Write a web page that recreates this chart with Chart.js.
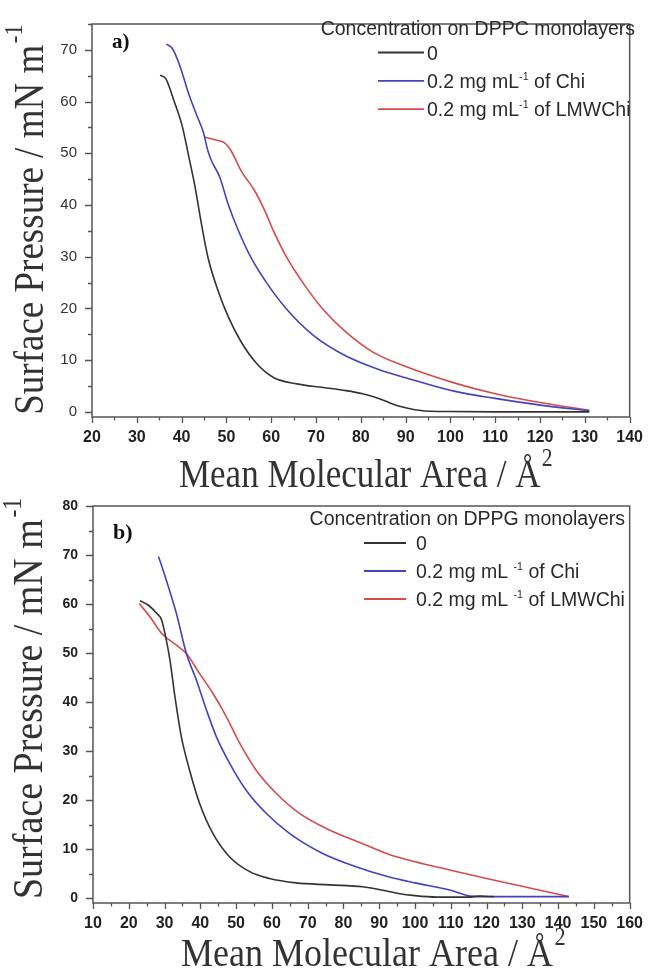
<!DOCTYPE html>
<html><head><meta charset="utf-8">
<script src="https://cdn.jsdelivr.net/npm/chart.js@4/dist/chart.umd.min.js"></script>
<style>
html,body{margin:0;padding:0;background:#fff;width:654px;height:970px;overflow:hidden;}
canvas{position:absolute;left:0;}
#ca{top:0;}
#cb{top:480px;}
</style></head><body>
<canvas id="ca" width="654" height="500"></canvas>
<canvas id="cb" width="654" height="495"></canvas>
<script>
// ---------------- data ----------------
const legendTitleA = 'Concentration on DPPC monolayers';
const legendTitleB = 'Concentration on DPPG monolayers';
const seriesNamesA = ['0', '0.2 mg mL^-1 of Chi', '0.2 mg mL^-1 of LMWChi'];
const seriesNamesB = ['0', '0.2 mg mL ^-1 of Chi', '0.2 mg mL ^-1 of LMWChi'];
const xAxisTitle = 'Mean Molecular Area / Å^2';
const yAxisTitle = 'Surface Pressure / mN m^-1';

const xTicksA = [20, 30, 40, 50, 60, 70, 80, 90, 100, 110, 120, 130, 140];
const yTicksA = [0, 10, 20, 30, 40, 50, 60, 70];
const xTicksB = [10, 20, 30, 40, 50, 60, 70, 80, 90, 100, 110, 120, 130, 140, 150, 160];
const yTicksB = [0, 10, 20, 30, 40, 50, 60, 70, 80];

// a) DPPC
const dppcPureX = [35.2, 36.5, 38.2, 40.1, 41.5, 43.0, 44.5, 45.9, 48.1, 50.3, 53.3, 56.9, 60.6, 65.7, 71.6, 76.7, 80.4, 84.0, 87.7, 91.0, 94.4, 100, 110, 120, 131];
const dppcPureY = [65.1, 64.4, 60.4, 55.4, 49.8, 43.5, 36.0, 29.8, 23.5, 18.6, 13.5, 9.2, 6.6, 5.4, 4.7, 4.1, 3.5, 2.6, 1.3, 0.6, 0.15, 0.05, 0, 0, 0];
const dppcChiX = [36.6, 37.9, 39.7, 41.5, 43.4, 44.8, 45.9, 46.7, 48.5, 50.3, 52.5, 55.5, 59.1, 63.5, 69.4, 76.7, 84.0, 90.0, 100.8, 110, 120, 131];
const dppcChiY = [71.1, 70.3, 66.7, 61.7, 57.3, 54.2, 50.4, 48.5, 45.4, 40.4, 35.4, 29.8, 24.8, 19.8, 14.8, 10.8, 8.2, 6.6, 4.0, 2.6, 1.3, 0.2];
const dppcLmwX = [45.2, 47.4, 49.6, 51.1, 53.3, 56.2, 58.4, 60.6, 63.5, 67.2, 71.6, 76.7, 82.6, 89.9, 100.8, 110, 120, 131];
const dppcLmwY = [53.1, 52.6, 52.0, 50.4, 46.6, 42.9, 39.2, 34.8, 29.8, 24.8, 19.8, 15.4, 11.6, 8.8, 5.6, 3.5, 1.8, 0.3];

// b) DPPG
const dppgPureX = [23.1, 25.4, 27.8, 29.2, 30.1, 31.5, 32.9, 34.7, 37.0, 39.8, 43.5, 48.2, 53.8, 59.3, 66.8, 76.1, 85.4, 91.0, 95, 100, 106, 115, 118, 122];
const dppgPureY = [60.7, 59.8, 58.1, 56.7, 54.0, 48.6, 41.1, 32.9, 26.1, 19.3, 13.2, 8.4, 5.4, 4.0, 3.1, 2.7, 2.3, 1.6, 1.0, 0.5, 0.2, 0.2, 0.4, 0.3];
const dppgChiX = [28.3, 29.6, 33.3, 36.1, 38.9, 41.7, 44.5, 48.2, 52.8, 58.4, 64.9, 74.2, 83.5, 92.8, 100, 110, 115.4, 120, 130, 143];
const dppgChiY = [69.7, 66.9, 58.1, 49.9, 44.5, 38.4, 32.9, 27.5, 22.0, 17.3, 13.2, 9.1, 6.4, 4.3, 3.1, 1.6, 0.4, 0.3, 0.3, 0.3];
const dppgLmwX = [22.9, 25.9, 29.2, 33.3, 36.1, 39.8, 43.5, 47.3, 51.0, 55.6, 61.2, 67.7, 76.1, 85.4, 92.8, 100, 110, 120, 130, 140, 143];
const dppgLmwY = [60.1, 57.4, 54.0, 51.6, 49.9, 45.8, 41.8, 37.0, 31.6, 26.1, 21.4, 17.3, 13.9, 11.1, 8.9, 7.4, 5.7, 4.0, 2.4, 0.8, 0.3];

const seriesColors = ['#333333', '#4343bf', '#d64c4c'];

// ---------------- helpers ----------------
const SANS = '"Liberation Sans", Arial, sans-serif';
const SERIF = '"Liberation Serif", "Times New Roman", serif';

function pts(xs, ys) { return xs.map((x, i) => ({ x: x, y: ys[i] })); }

function drawRich(ctx, text, x, y, o) {
  ctx.save();
  ctx.translate(x, y);
  if (o.rotate) ctx.rotate(o.rotate);
  ctx.scale(1, o.stretch || 1);
  const w8 = o.weight || 'normal';
  const main = w8 + ' ' + o.size + 'px ' + o.family;
  const sup = w8 + ' ' + (o.size * (o.supScale || 0.6)).toFixed(1) + 'px ' + o.family;
  const gap = o.size * (o.supGap || 0);
  const segs = text.split(/\^(\S+)/).map((t, i) => ({ t: t, sup: i % 2 === 1 })).filter(s => s.t.length);
  let w = 0;
  segs.forEach(s => { ctx.font = s.sup ? sup : main; s.w = ctx.measureText(s.t).width + (s.sup ? gap : 0); w += s.w; });
  let cx = o.align === 'center' ? -w / 2 : (o.align === 'right' ? -w : 0);
  ctx.fillStyle = o.color || '#222';
  ctx.textBaseline = 'alphabetic';
  ctx.textAlign = 'left';
  segs.forEach(s => {
    ctx.font = s.sup ? sup : main;
    ctx.fillText(s.t, cx + (s.sup ? gap : 0), s.sup ? -o.size * (o.supRise || 0.45) : 0);
    cx += s.w;
  });
  ctx.restore();
}

const framePlugin = {
  id: 'frame',
  afterDraw(chart, args, opts) {
    const { ctx, chartArea: a } = chart;
    const x = chart.scales.x, y = chart.scales.y;
    ctx.save();
    ctx.strokeStyle = '#555';
    ctx.lineWidth = 1.5;
    ctx.strokeRect(a.left, a.top, a.right - a.left, a.bottom - a.top);
    ctx.lineWidth = 1.3;
    ctx.beginPath();
    for (let v = x.min; v <= x.max + 1e-6; v += 5) {
      const p = Math.round(x.getPixelForValue(v)) + 0.5;
      const major = Math.round(v) % 10 === 0;
      ctx.moveTo(p, a.bottom); ctx.lineTo(p, a.bottom + (major ? 6 : 3.5));
    }
    for (let v = 0; v <= y.max + 1e-6; v += 5) {
      const p = Math.round(y.getPixelForValue(v)) + 0.5;
      const major = Math.round(v) % 10 === 0;
      ctx.moveTo(a.left, p); ctx.lineTo(a.left - (major ? 7 : 4), p);
    }
    ctx.stroke();

    // legend (from datasets)
    const L = opts.legend;
    drawRich(ctx, L.title, L.titleRight, L.titleY, { size: L.size, family: SANS, align: 'right', color: '#2a2a2a' });
    chart.data.datasets.forEach((ds, i) => {
      const ly = L.firstY + i * L.gap;
      ctx.strokeStyle = ds.borderColor;
      ctx.lineWidth = 1.8;
      ctx.beginPath(); ctx.moveTo(L.lineX0, ly); ctx.lineTo(L.lineX1, ly); ctx.stroke();
      drawRich(ctx, ds.label, L.textX, ly + L.size * 0.36, { size: L.size, family: SANS, color: '#2a2a2a', supScale: 0.55, supRise: 0.42 });
    });

    // panel label
    const P = opts.panel;
    drawRich(ctx, P.text, P.x, P.y, { size: P.size, family: SERIF, weight: 'bold', color: '#111' });

    // axis titles
    const T = opts.titles;
    drawRich(ctx, T.x, (a.left + a.right) / 2 + T.xShift, T.xBase, { size: T.xSize, family: SERIF, align: 'center', color: '#333', stretch: T.stretch, supScale: 0.62, supRise: 0.52, supGap: 0.04 });
    drawRich(ctx, T.y, T.yBase, (a.top + a.bottom) / 2 + T.yShift, { size: T.ySize, family: SERIF, align: 'center', color: '#333', rotate: -Math.PI / 2, stretch: T.stretch, supScale: 0.62, supRise: 0.5, supGap: 0.04 });
    ctx.restore();
  }
};

function makeChart(id, cfg) {
  const datasets = cfg.series.map((s, i) => ({
    label: cfg.names[i],
    data: pts(s[0], s[1]),
    borderColor: seriesColors[i],
    backgroundColor: seriesColors[i],
    borderWidth: 1.6,
    pointRadius: 0,
    showLine: true,
    fill: false,
    cubicInterpolationMode: 'monotone'
  }));
  return new Chart(document.getElementById(id), {
    type: 'scatter',
    data: { datasets: datasets },
    plugins: [framePlugin],
    options: {
      responsive: false,
      animation: false,
      events: [],
      layout: { padding: cfg.padding },
      plugins: {
        legend: { display: false },
        tooltip: { enabled: false },
        frame: { legend: cfg.legend, panel: cfg.panel, titles: cfg.titles }
      },
      scales: {
        x: {
          type: 'linear', min: cfg.xMin, max: cfg.xMax,
          grid: { display: false, drawTicks: false }, border: { display: false },
          afterBuildTicks: sc => { sc.ticks = cfg.xTicks.map(v => ({ value: v })); },
          afterFit: sc => { sc.height = cfg.xHeight; },
          ticks: { autoSkip: false, maxRotation: 0, padding: 11, color: '#222', font: { family: SANS, size: 16, weight: 'bold' } }
        },
        y: {
          type: 'linear', min: cfg.yMin, max: cfg.yMax,
          grid: { display: false, drawTicks: false }, border: { display: false },
          afterBuildTicks: sc => { sc.ticks = cfg.yTicks.map(v => ({ value: v })); },
          afterFit: sc => { sc.width = cfg.yWidth; },
          ticks: { autoSkip: false, padding: 15, color: cfg.yTickColor, font: cfg.yTickFont }
        }
      }
    }
  });
}

makeChart('ca', {
  series: [[dppcPureX, dppcPureY], [dppcChiX, dppcChiY], [dppcLmwX, dppcLmwY]],
  names: seriesNamesA,
  xMin: 20, xMax: 140, yMin: -1, yMax: 75,
  xTicks: xTicksA, yTicks: yTicksA,
  padding: { left: 0, right: 16, top: 13, bottom: 0 },
  xHeight: 83, yWidth: 92,
  yTickColor: '#333', yTickFont: { family: SANS, size: 15 },
  legend: { title: legendTitleA, titleRight: 635, titleY: 35, firstY: 52.5, gap: 28.3, lineX0: 378, lineX1: 424, textX: 427, size: 19.5 },
  panel: { text: 'a)', x: 112, y: 48, size: 21 },
  titles: { x: xAxisTitle, y: yAxisTitle, xBase: 487, xShift: 5, xSize: 35, yBase: 43, yShift: -1, ySize: 37, stretch: 1.13 }
});

makeChart('cb', {
  series: [[dppgPureX, dppgPureY], [dppgChiX, dppgChiY], [dppgLmwX, dppgLmwY]],
  names: seriesNamesB,
  xMin: 10, xMax: 160, yMin: -1, yMax: 80,
  xTicks: xTicksB, yTicks: yTicksB,
  padding: { left: 0, right: 22, top: 26, bottom: 0 },
  xHeight: 72, yWidth: 93,
  yTickColor: '#222', yTickFont: { family: SANS, size: 14, weight: 'bold' },
  legend: { title: legendTitleB, titleRight: 625, titleY: 45, firstY: 63, gap: 28, lineX0: 364, lineX1: 406, textX: 416, size: 19.5 },
  panel: { text: 'b)', x: 113, y: 59, size: 22 },
  titles: { x: xAxisTitle, y: yAxisTitle, xBase: 486, xShift: 12, xSize: 36, yBase: 42, yShift: -6, ySize: 38, stretch: 1.13 }
});
</script>
</body></html>
